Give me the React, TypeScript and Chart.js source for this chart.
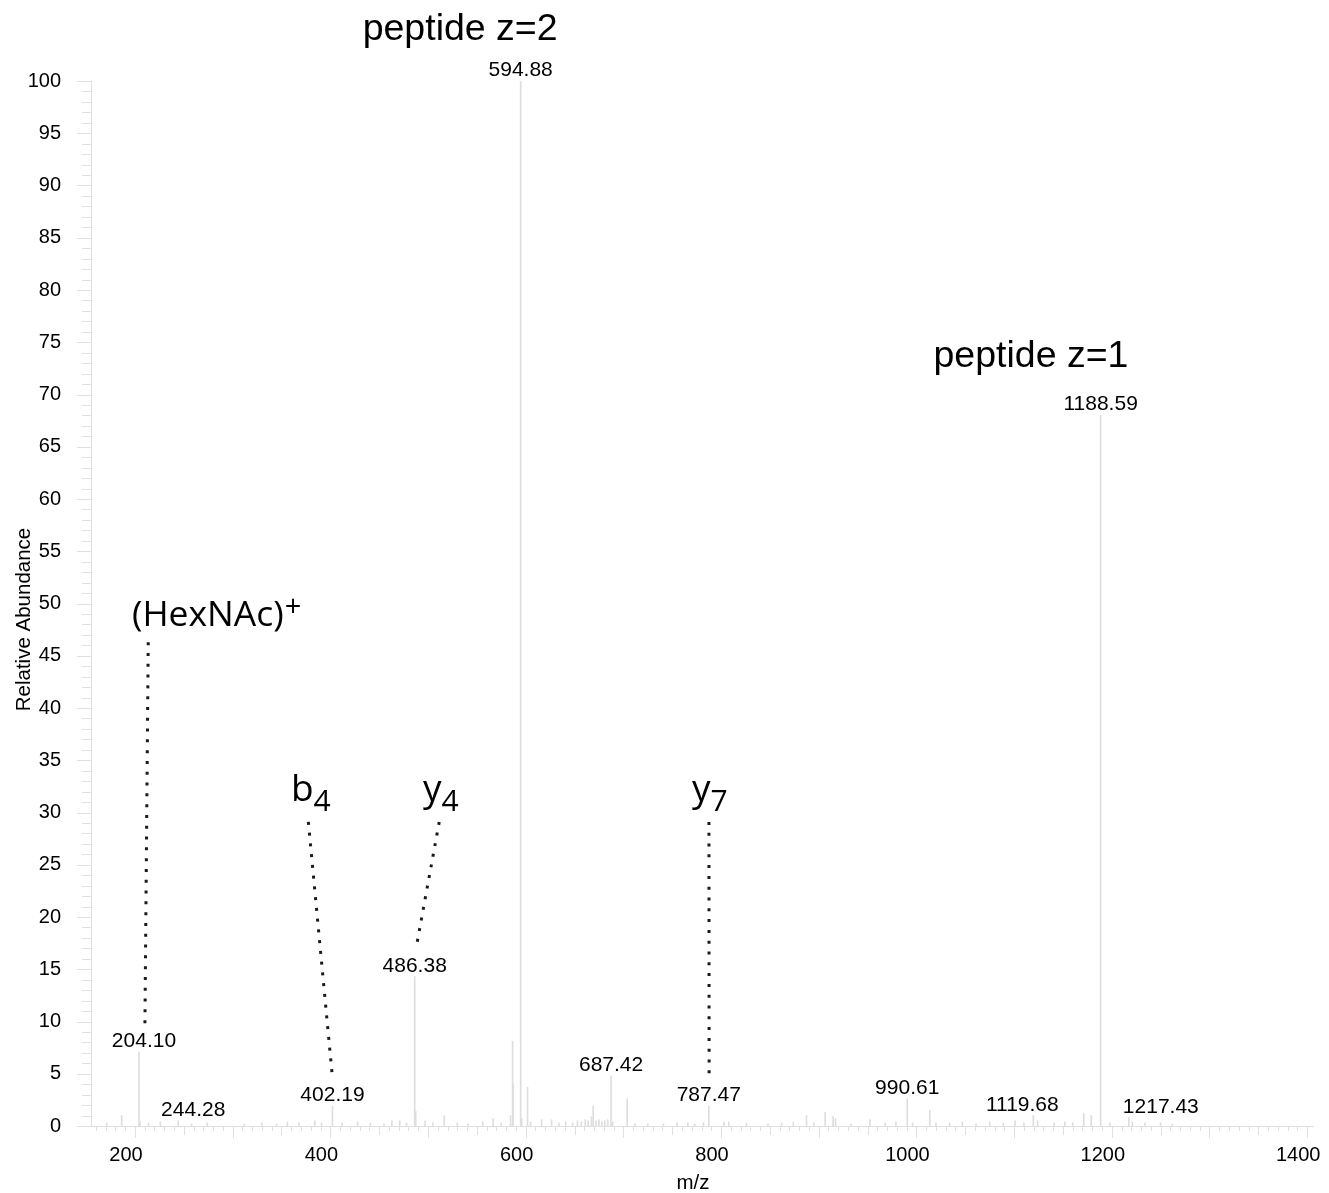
import { useEffect, useRef } from "react";
import { Chart, registerables } from "chart.js";

Chart.register(...registerables);

// Centroided MS/MS spectrum: m/z and relative abundance (%)
const PEAK_MZ = [
  171.0, 186.4, 204.1, 205.1, 214.0, 226.0, 244.28, 258.0, 274.0,
  312.0, 330.0, 345.0, 356.0, 368.0, 384.0, 391.0, 402.19,
  412.0, 428.0, 441.0, 455.0, 463.0, 471.0, 478.0, 486.38, 487.4, 497.0, 505.0, 516.6,
  530.0, 541.0, 556.0, 566.7, 575.0, 584.5, 586.6, 587.1, 594.88, 595.9, 601.9, 605.0, 616.3, 626.5,
  634.0, 641.0, 648.0, 653.0, 657.0, 661.0, 664.0, 667.4, 669.1, 672.0, 675.0, 678.0, 681.0, 684.0,
  687.42, 689.0, 703.9,
  712.0, 725.0, 741.0, 755.0, 766.0, 773.0, 782.0, 787.47, 803.0, 808.0,
  826.0, 848.0, 862.0, 874.0, 887.5, 895.0, 906.6, 914.7, 917.2,
  933.0, 952.3, 968.0, 979.0, 990.61, 996.0, 1013.7, 1020.0,
  1034.0, 1047.0, 1061.0, 1075.0, 1089.0, 1101.0, 1110.0, 1119.68, 1124.0,
  1141.0, 1152.0, 1160.0, 1171.3, 1179.0, 1188.59, 1198.0, 1217.43, 1221.0, 1234.0, 1250.0, 1262.0,
];
const PEAK_INT = [
  0.3, 1.0, 7.1, 0.4, 0.3, 0.4, 0.5, 0.2, 0.3,
  0.2, 0.3, 0.2, 0.4, 0.3, 0.5, 0.3, 1.9,
  0.3, 0.4, 0.3, 0.2, 0.5, 0.5, 0.3, 14.3, 1.4, 0.5, 0.3, 1.0,
  0.3, 0.2, 0.4, 0.7, 0.3, 1.0, 8.1, 4.0, 100.0, 0.7, 3.7, 0.4, 0.6, 0.6,
  0.3, 0.4, 0.3, 0.5, 0.4, 0.6, 0.5, 0.9, 1.9, 0.5, 0.6, 0.4, 0.5, 0.6,
  4.8, 0.4, 2.6,
  0.2, 0.2, 0.2, 0.3, 0.3, 0.2, 0.3, 1.9, 0.4, 0.4,
  0.3, 0.2, 0.3, 0.4, 1.0, 0.3, 1.3, 0.9, 0.7,
  0.2, 0.6, 0.3, 0.4, 2.6, 0.3, 1.5, 0.3,
  0.3, 0.4, 0.2, 0.4, 0.3, 0.5, 0.3, 1.0, 0.5,
  0.3, 0.4, 0.3, 1.2, 1.0, 68.0, 0.3, 0.8, 0.4, 0.3, 0.3, 0.2,
];

// Peaks annotated with their m/z value
const LABELLED_MZ = [204.1, 244.28, 402.19, 486.38, 594.88, 687.42, 787.47, 990.61, 1119.68, 1188.59, 1217.43];
// sideways nudge of each value label (px) so neighbouring labels stay clear
const LABEL_NUDGE = [5, 15, 0, 0, 0, 0, 0, 0, -11, 0, 32];

const X_TICKS = [200, 400, 600, 800, 1000, 1200, 1400];
const X_MIN = 155;
const X_MAX = 1406;

// Fragment ion assignments: name, script suffix, text anchor (m/z, %), leader line ends
const ION_NAMES = ["(HexNAc)", "b", "y", "y"];
const ION_SUFFIX = ["+", "4", "4", "7"];
const ION_TEXT_MZ = [196.9, 359.7, 494.8, 770.2];
const ION_TEXT_INT = [47.85, 31.1, 31.1, 31.1];
const LEADER_TOP = [[213.6, 46.3], [377.5, 29.1], [511.5, 29.1], [787.6, 29.1]];
const LEADER_BOTTOM = [[210.2, 9.7], [402.2, 4.6], [487.6, 16.9], [787.8, 4.5]];

// Precursor labels: text, centre m/z, baseline %
const PRECURSOR_TEXT = ["peptide z=2", "peptide z=1"];
const PRECURSOR_MZ = [532.9, 1117.3];
const PRECURSOR_INT = [103.9, 72.6];

const ARIAL = "'Liberation Sans', Arial, sans-serif";
const ANNOT = "'Open Sans', 'Noto Sans', sans-serif";
const AXIS_GREY = "#e0e0e0";

const overlay = {
  id: "spectrumOverlay",
  afterDraw(chart: any) {
    const { ctx, chartArea } = chart;
    const xs = chart.scales.x;
    const ys = chart.scales.y;
    const px = (v: number) => xs.getPixelForValue(v);
    const py = (v: number) => ys.getPixelForValue(v);
    ctx.save();

    // axis tick marks
    ctx.strokeStyle = AXIS_GREY;
    ctx.lineWidth = 1;
    ctx.beginPath();
    for (let v = 160; v <= 1400; v += 10) {
      const len = v % 100 === 0 ? 12 : v % 50 === 0 ? 9 : 5;
      const x = Math.round(px(v)) + 0.5;
      ctx.moveTo(x, chartArea.bottom);
      ctx.lineTo(x, chartArea.bottom + len);
    }
    for (let v = 0; v <= 100; v += 1) {
      const len = v % 5 === 0 ? 14 : 9;
      const y = Math.round(py(v)) + 0.5;
      ctx.moveTo(chartArea.left - len, y);
      ctx.lineTo(chartArea.left, y);
    }
    ctx.stroke();

    // m/z value labels above peaks
    ctx.fillStyle = "#000";
    ctx.font = `21px ${ARIAL}`;
    ctx.textAlign = "center";
    ctx.textBaseline = "alphabetic";
    LABELLED_MZ.forEach((mz, i) => {
      const idx = PEAK_MZ.indexOf(mz);
      const inten = PEAK_INT[idx];
      ctx.fillText(mz.toFixed(2), px(mz) + LABEL_NUDGE[i], py(inten) - 5);
    });

    // precursor labels
    ctx.font = `37.5px ${ARIAL}`;
    PRECURSOR_TEXT.forEach((t, i) => {
      ctx.fillText(t, px(PRECURSOR_MZ[i]), py(PRECURSOR_INT[i]));
    });

    // dotted leader lines
    ctx.strokeStyle = "#1a1a1a";
    ctx.lineWidth = 3;
    ctx.setLineDash([3, 7.8]);
    LEADER_TOP.forEach((top, i) => {
      const bot = LEADER_BOTTOM[i];
      ctx.beginPath();
      ctx.moveTo(px(top[0]), py(top[1]));
      ctx.lineTo(px(bot[0]), py(bot[1]));
      ctx.stroke();
    });
    ctx.setLineDash([]);

    // ion names
    ctx.textAlign = "left";
    ctx.fillStyle = "#000";
    ION_NAMES.forEach((name, i) => {
      const x0 = px(ION_TEXT_MZ[i]);
      const y0 = py(ION_TEXT_INT[i]);
      const big = i === 0 ? 35.5 : 37;
      ctx.font = `${big}px ${ANNOT}`;
      ctx.fillText(name, x0, y0);
      const w = ctx.measureText(name).width;
      if (i === 0) {
        ctx.font = `29px ${ANNOT}`;
        ctx.fillText(ION_SUFFIX[i], x0 + w + 1, y0 - 10);
      } else {
        ctx.font = `30px ${ANNOT}`;
        ctx.fillText(ION_SUFFIX[i], x0 + w, y0 + 10);
      }
    });

    // axis titles
    ctx.font = `20.5px ${ARIAL}`;
    ctx.textAlign = "center";
    ctx.fillText("m/z", (chartArea.left + chartArea.right) / 2 - 9, 1189);
    ctx.translate(30, (chartArea.top + chartArea.bottom) / 2 + 16);
    ctx.rotate(-Math.PI / 2);
    ctx.fillText("Relative Abundance", 0, 0);

    ctx.restore();
  },
};

export default function App() {
  const canvasRef = useRef<HTMLCanvasElement | null>(null);

  useEffect(() => {
    const canvas = canvasRef.current;
    if (!canvas) return;
    const chart = new Chart(canvas, {
      type: "bar",
      data: {
        datasets: [
          {
            data: PEAK_MZ.map((mz, i) => ({ x: mz, y: PEAK_INT[i] })),
            backgroundColor: "#dedede",
            borderWidth: 0,
            barThickness: 1,
            grouped: false,
          } as any,
        ],
      },
      options: {
        animation: false,
        responsive: false,
        devicePixelRatio: 1,
        events: [],
        layout: { padding: { top: 81, right: 16, left: 0, bottom: 0 } },
        plugins: { legend: { display: false }, tooltip: { enabled: false } },
        scales: {
          x: {
            type: "linear",
            offset: false,
            min: X_MIN,
            max: X_MAX,
            afterBuildTicks: (scale: any) => {
              scale.ticks = X_TICKS.map((v) => ({ value: v }));
            },
            afterFit: (scale: any) => {
              scale.height = 67;
              scale.paddingLeft = 0;
              scale.paddingRight = 0;
            },
            grid: { display: false, drawTicks: false, offset: false },
            border: { display: true, color: AXIS_GREY, width: 1 },
            ticks: {
              autoSkip: false,
              maxRotation: 0,
              labelOffset: -9,
              padding: 17,
              color: "#000",
              font: { family: ARIAL, size: 20 },
              callback: (v: any) => String(v),
            },
          },
          y: {
            type: "linear",
            min: 0,
            max: 100,
            afterFit: (scale: any) => {
              scale.width = 91;
              scale.paddingTop = 0;
              scale.paddingBottom = 0;
            },
            grid: { display: false, drawTicks: false },
            border: { display: true, color: AXIS_GREY, width: 1 },
            ticks: {
              stepSize: 5,
              padding: 30,
              color: "#000",
              font: { family: ARIAL, size: 20 },
            },
          },
        },
      },
      plugins: [overlay],
    });
    return () => chart.destroy();
  }, []);

  return (
    <div style={{ position: "absolute", left: 0, top: 0, width: 1329, height: 1193, background: "#fff" }}>
      <canvas ref={canvasRef} width={1329} height={1193} style={{ display: "block" }} />
    </div>
  );
}
